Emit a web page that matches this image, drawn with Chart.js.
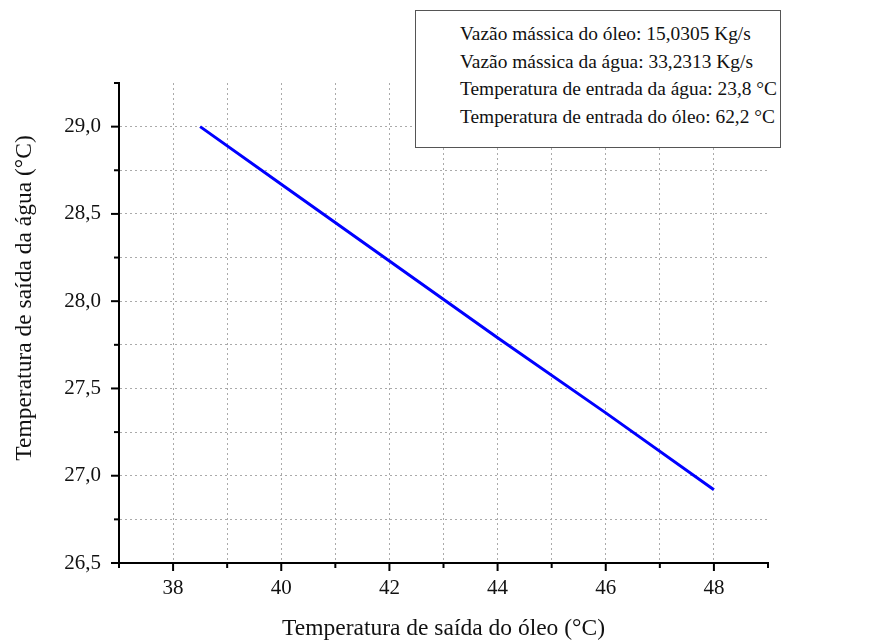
<!DOCTYPE html>
<html>
<head>
<meta charset="utf-8">
<script src="https://cdn.jsdelivr.net/npm/chart.js@4"></script>
<style>
  html, body { margin: 0; padding: 0; background: #fff; }
  #wrap { position: relative; width: 881px; height: 643px; }
  #note {
    position: absolute; left: 415px; top: 10px; width: 366px; height: 138px;
    box-sizing: border-box; border: 1.5px solid #555; background: #fff;
    font-family: 'Liberation Serif', 'DejaVu Serif', serif; font-size: 19.4px; color: #111;
    padding: 9px 0 0 44px; line-height: 27.5px; white-space: nowrap;
  }
</style>
</head>
<body>
<div id="wrap">
  <canvas id="chart" width="881" height="643"></canvas>
  <div id="note"></div>
</div>
<script>
// readings from the reference plot
const oilOutTemp = [38.5, 40, 42, 44, 46, 48];
const waterOutTemp = [29.0, 28.67, 28.23, 27.79, 27.36, 26.92];
const xTickLabels = [38, 40, 42, 44, 46, 48];
const yTickLabels = [26.5, 27.0, 27.5, 28.0, 28.5, 29.0];
const yTitle = 'Temperatura de saída da água (°C)';
const noteLines = [
  'Vazão mássica do óleo: 15,0305 Kg/s',
  'Vazão mássica da água: 33,2313 Kg/s',
  'Temperatura de entrada da água: 23,8 °C',
  'Temperatura de entrada do óleo: 62,2 °C',
];

document.getElementById('note').innerHTML = noteLines.map(l => `<div>${l}</div>`).join('');

const SERIF = "'Liberation Serif', 'DejaVu Serif', serif";
const dotted = (ctx) => ctx.index === 0 || ctx.index === ctx.chart.scales[ctx.scale.id].ticks.length - 1 ? 'rgba(0,0,0,0)' : '#aaa';

// tick marks drawn outward from the axis lines, long for labelled ticks
const tickMarks = {
  id: 'tickMarks',
  afterDraw(chart) {
    const { ctx, chartArea } = chart;
    const xs = chart.scales.x, ys = chart.scales.y;
    ctx.save();
    ctx.strokeStyle = '#000';
    ctx.lineWidth = 2;
    xs.ticks.forEach(t => {
      const px = xs.getPixelForValue(t.value);
      const len = xTickLabels.includes(t.value) ? 8 : 5;
      ctx.beginPath(); ctx.moveTo(px, chartArea.bottom); ctx.lineTo(px, chartArea.bottom + len); ctx.stroke();
    });
    ys.ticks.forEach(t => {
      const py = ys.getPixelForValue(t.value);
      const len = yTickLabels.some(v => Math.abs(v - t.value) < 1e-6) ? 8 : 5;
      ctx.beginPath(); ctx.moveTo(chartArea.left, py); ctx.lineTo(chartArea.left - len, py); ctx.stroke();
    });
    // y title sits a little above the plot's centre, as in the source figure
    ctx.translate(25, chartArea.top + (chartArea.bottom - chartArea.top) / 2 - 25);
    ctx.rotate(-Math.PI / 2);
    ctx.fillStyle = '#111';
    ctx.font = `23.5px ${SERIF}`;
    ctx.textAlign = 'center';
    ctx.textBaseline = 'middle';
    ctx.fillText(yTitle, 0, 0);
    ctx.restore();
  },
};

new Chart(document.getElementById('chart'), {
  type: 'scatter',
  data: {
    datasets: [{
      data: oilOutTemp.map((x, i) => ({ x, y: waterOutTemp[i] })),
      showLine: true,
      borderColor: '#0000ff',
      borderWidth: 3,
      pointRadius: 0,
      tension: 0,
    }],
  },
  options: {
    responsive: false,
    animation: false,
    layout: { padding: { top: 83, right: 113, left: 0, bottom: 0 } },
    plugins: { legend: { display: false }, tooltip: { enabled: false } },
    scales: {
      x: {
        type: 'linear', min: 37, max: 49,
        afterFit(s) { s.height = 80; },
        grid: { color: dotted, lineWidth: 1, drawTicks: false },
        border: { color: '#000', width: 2, dash: [2, 3] },
        ticks: {
          stepSize: 1, padding: 13, color: '#111',
          font: { family: SERIF, size: 21 },
          callback: v => xTickLabels.includes(v) ? String(v) : '',
        },
        title: {
          display: true, text: 'Temperatura de saída do óleo (°C)', color: '#111',
          font: { family: SERIF, size: 23.5 }, padding: { top: 0, bottom: 0 },
        },
      },
      y: {
        type: 'linear', min: 26.5, max: 29.25,
        afterFit(s) { s.width = 119; },
        grid: { color: dotted, lineWidth: 1, drawTicks: false },
        border: { color: '#000', width: 2, dash: [2, 3] },
        ticks: {
          stepSize: 0.25, padding: 18, color: '#111',
          font: { family: SERIF, size: 21 },
          callback: v => yTickLabels.some(t => Math.abs(t - v) < 1e-6) ? v.toFixed(1).replace('.', ',') : '',
        },
        title: { display: false },
      },
    },
  },
  plugins: [tickMarks],
});
</script>
</body>
</html>
